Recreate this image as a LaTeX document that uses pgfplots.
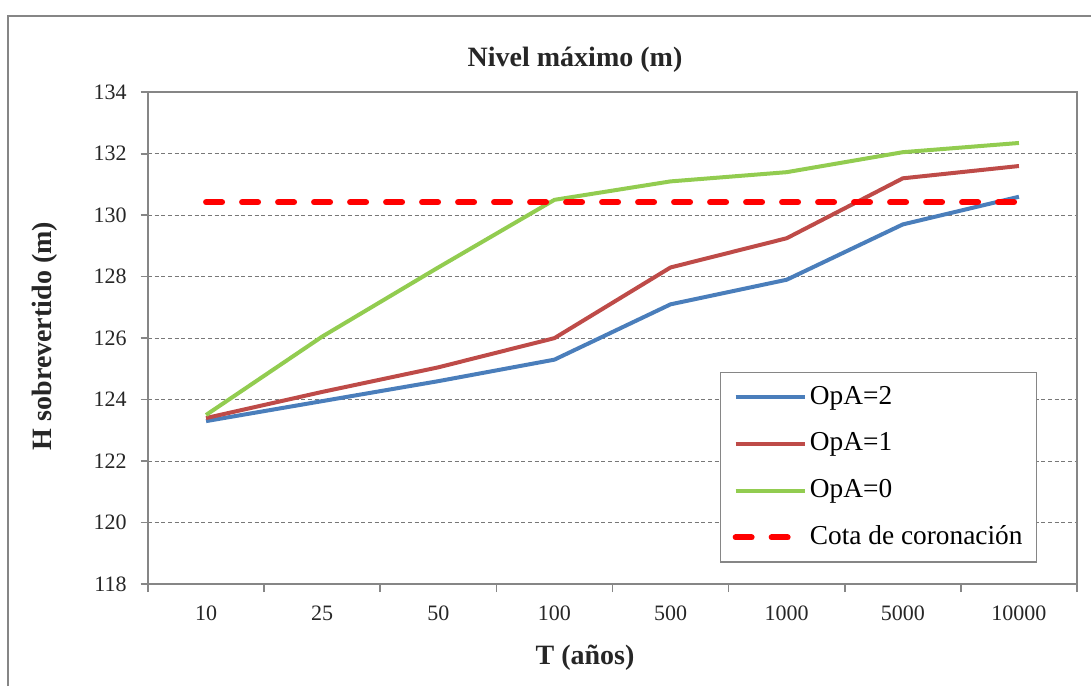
\documentclass[border=0pt]{standalone}
\usepackage{pgfplots}
\pgfplotsset{compat=1.18}
\usepackage{fontspec}
\setmainfont{Liberation Serif}
\definecolor{cblue}{RGB}{74,126,187}
\definecolor{cred}{RGB}{190,75,72}
\definecolor{cgreen}{RGB}{146,204,80}
\definecolor{cdash}{RGB}{255,0,0}
\definecolor{axgray}{RGB}{134,134,134}
\definecolor{gridgray}{RGB}{120,120,120}
\begin{document}
\begin{tikzpicture}
\useasboundingbox (0,0) rectangle (818.25pt,514.5pt);
\draw[axgray, line width=1.6pt] (6pt,0pt) -- (6pt,502.5pt) -- (818.25pt,502.5pt);
\begin{axis}[
  at={(111pt,76.5pt)}, anchor=south west,
  scale only axis, width=696.75pt, height=368.8pt,
  xmin=-0.5, xmax=7.5, ymin=118, ymax=134,
  xtick={0,...,7},
  xticklabels={10,25,50,100,500,1000,5000,10000},
  minor xtick={-0.5,0.5,...,7.5},
  ytick={118,120,...,134},
  xtick pos=bottom, ytick pos=left,
  tick align=outside,
  major x tick style={draw=none},
  minor x tick style={axgray, line width=1.2pt},
  major y tick style={axgray, line width=1.2pt},
  major tick length=5.5pt, minor tick length=6pt,
  axis line style={axgray, line width=1.2pt},
  ymajorgrids,
  major grid style={gridgray, line width=0.7pt, dash pattern=on 3pt off 2pt},
  ticklabel style={font=\fontsize{16.5}{19}\selectfont, text=black!85},
  xticklabel style={yshift=-7.5pt},
  yticklabel style={xshift=-7pt},
  /pgf/number format/assume math mode=true,
  legend cell align=left,
  legend style={at={(0.6157,0.431)}, anchor=north west, draw=axgray, line width=1pt,
    font=\fontsize{20.5}{24}\selectfont, inner xsep=9pt, inner ysep=8pt, row sep=14pt,
    nodes={inner sep=1.5pt, text height=14pt, text depth=4pt}},
  legend image code/.code={\draw[#1] (0pt,0pt) -- (52pt,0pt);},
]
\addplot[cblue, line width=3pt] coordinates {(0,123.3) (1,123.95) (2,124.6) (3,125.3) (4,127.1) (5,127.9) (6,129.7) (7,130.6)};
\addlegendentry{OpA=2}
\addplot[cred, line width=3pt] coordinates {(0,123.4) (1,124.25) (2,125.05) (3,126.0) (4,128.3) (5,129.25) (6,131.2) (7,131.6)};
\addlegendentry{OpA=1}
\addplot[cgreen, line width=3pt] coordinates {(0,123.5) (1,126.05) (2,128.3) (3,130.5) (4,131.1) (5,131.4) (6,132.05) (7,132.35)};
\addlegendentry{OpA=0}
\addplot[cdash, line width=4.5pt, line cap=round, dash pattern=on 12pt off 15pt] coordinates {(0,130.42) (1,130.42) (2,130.42) (3,130.42) (4,130.42) (5,130.42) (6,130.42) (7,130.42)};
\addlegendentry{Cota de coronación}
\end{axis}
\node[font=\bfseries\fontsize{21}{25}\selectfont, text=black!85] at (431.25pt,469.5pt) {Nivel máximo (m)};
\node[font=\bfseries\fontsize{21}{25}\selectfont, text=black!85] at (438.75pt,21pt) {T (años)};
\node[font=\bfseries\fontsize{21}{25}\selectfont, text=black!85, rotate=90] at (33.75pt,262.5pt) {H sobrevertido (m)};
\end{tikzpicture}
\end{document}
